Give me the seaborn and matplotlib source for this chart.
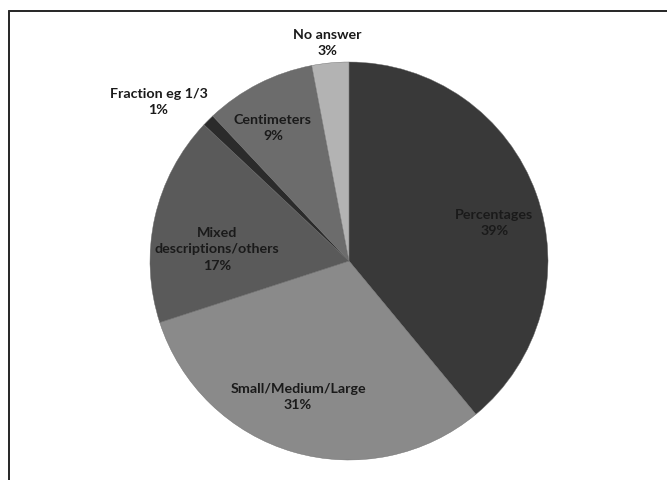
import numpy as np
import matplotlib
matplotlib.use("Agg")
import matplotlib.pyplot as plt
from matplotlib.lines import Line2D
import seaborn as sns

# ---- data ----
categories = ["Percentages", "Small/Medium/Large", "Mixed\ndescriptions/others",
              "Fraction eg 1/3", "Centimeters", "No answer"]
shares = [39, 31, 17, 1, 9, 3]
colors = ["#393939", "#8a8a8a", "#5a5a5a", "#2b2b2b", "#6c6c6c", "#b3b3b3"]

# label placement (fraction of radius, angle tweak in degrees)
label_dist = [0.755, 0.725, 0.667, 1.25, 0.774, 1.106]
label_shift = [-4.8, -4.5, 7.0, 5.0, 2.6, 0.3]

sns.set_theme(style="white")
plt.rcParams["font.family"] = ["Lato", "DejaVu Sans"]

W, H, DPI = 667, 481, 100
fig = plt.figure(figsize=(W / DPI, H / DPI), dpi=DPI)
fig.patch.set_facecolor("white")
ax = fig.add_axes([0, 0, 1, 1])

cx, cy, R = 349, 262, 199  # pixel centre / radius
wedges, _ = ax.pie(shares, colors=colors, startangle=90, counterclock=False,
                   radius=1, center=(0, 0),
                   wedgeprops=dict(linewidth=0.3, edgecolor="#6a6a6a"))

ax.set_xlim(-cx / R, (W - cx) / R)
ax.set_ylim(-(H - cy) / R, cy / R)
ax.set_aspect("auto")
ax.axis("off")

for w, lab, pct, d, sh in zip(wedges, categories, shares, label_dist, label_shift):
    ang = np.deg2rad((w.theta1 + w.theta2) / 2 + sh)
    x, y = d * np.cos(ang), d * np.sin(ang)
    ax.text(x, y, f"{lab}\n{pct}%", ha="center", va="center",
            fontsize=10.3, fontweight="bold", color="#1a1a1a",
            linespacing=1.45)

# frame (left and top border only)
lw = 2.0 * 72 / DPI
fig.add_artist(Line2D([9 / W, 9 / W], [0, 1 - 12 / H], transform=fig.transFigure,
                      color="#2a2a2a", linewidth=lw))
fig.add_artist(Line2D([9 / W, 1], [1 - 12 / H, 1 - 12 / H], transform=fig.transFigure,
                      color="#2a2a2a", linewidth=lw))

fig.savefig("out.png", dpi=DPI, facecolor="white")
